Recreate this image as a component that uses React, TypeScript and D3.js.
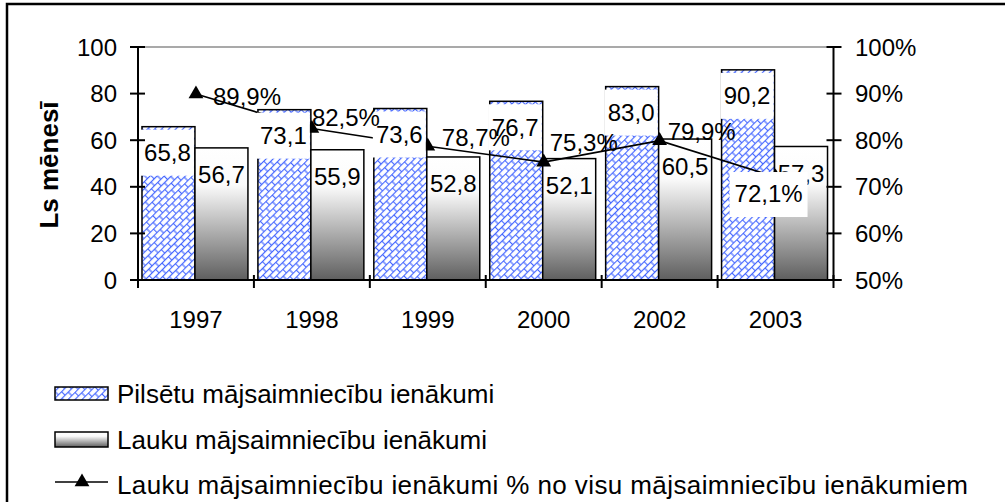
import React from "react";
import * as d3 from "d3";

const years = ["1997", "1998", "1999", "2000", "2002", "2003"];
const urbanIncome = [65.8, 73.1, 73.6, 76.7, 83.0, 90.2];
const ruralIncome = [56.7, 55.9, 52.8, 52.1, 60.5, 57.3];
const ruralShare = [89.9, 82.5, 78.7, 75.3, 79.9, 72.1];
const leftTicks = [0, 20, 40, 60, 80, 100];
const rightTicks = [50, 60, 70, 80, 90, 100];
const legendLabels = [
  "Pilsētu mājsaimniecību ienākumi",
  "Lauku mājsaimniecību ienākumi",
  "Lauku mājsaimniecību ienākumi % no visu mājsaimniecību ienākumiem",
];
const yTitle = "Ls mēnesī";

// layout-only: label offsets (text left, text middle) relative to each point
const shareLabelOffsets: [number, number][] = [
  [17, 2],
  [0, -11],
  [14, -9],
  [6, -20],
  [8, -9],
  [-41, 16],
];
const shareLabelBoxed = [false, false, false, false, false, true];

const W = 1005;
const H = 502;
const plot = { left: 138, right: 833.5, top: 47, bottom: 280 };
const FONT = "'Liberation Sans', Arial, sans-serif";

const fmt = (v: number) => v.toFixed(1).replace(".", ",");

export default function App() {
  const x0 = d3.scaleBand<string>().domain(years).range([plot.left, plot.right]);
  const bw = x0.bandwidth();
  const x1 = d3
    .scaleBand<string>()
    .domain(["u", "r"])
    .range([0, bw])
    .paddingInner(0)
    .paddingOuter(0.094)
    .align(0.4);
  const barW = x1.bandwidth();
  const y = d3.scaleLinear().domain([0, 100]).range([plot.bottom, plot.top]);
  const y2 = d3.scaleLinear().domain([50, 100]).range([plot.bottom, plot.top]);

  const pts = years.map((yr, i) => [x0(yr)! + bw / 2, y2(ruralShare[i])] as [number, number]);
  const line = d3.line()(pts) || "";
  const tri = d3.symbol().type(d3.symbolTriangle).size(95)() || "";

  const urbanBars = years.map((yr, i) => ({
    x: x0(yr)! + x1("u")!,
    top: y(urbanIncome[i]),
    v: urbanIncome[i],
  }));
  const ruralBars = years.map((yr, i) => ({
    x: x0(yr)! + x1("r")!,
    top: y(ruralIncome[i]),
    v: ruralIncome[i],
  }));

  const boundaries = years.map((yr) => x0(yr)!).concat([plot.right]);

  return (
    <svg
      width={W}
      height={H}
      style={{ position: "absolute", left: 0, top: 0, background: "#fff" }}
      fontFamily={FONT}
    >
      <defs>
        <pattern
          id="brick"
          width="9"
          height="10"
          patternUnits="userSpaceOnUse"
          patternTransform="rotate(-45)"
        >
          <rect width="9" height="10" fill="#fff" />
          <g stroke="#4466ff" strokeWidth="1.2" fill="none">
            <line x1="0" y1="0.5" x2="9" y2="0.5" />
            <line x1="0" y1="5.5" x2="9" y2="5.5" />
            <line x1="0.5" y1="0" x2="0.5" y2="5.5" />
            <line x1="5" y1="5.5" x2="5" y2="10" />
          </g>
        </pattern>
        <linearGradient id="grad" x1="0" y1="0" x2="0" y2="1">
          <stop offset="0" stopColor="#ffffff" />
          <stop offset="0.28" stopColor="#fbfbfb" />
          <stop offset="1" stopColor="#5f5f5f" />
        </linearGradient>
      </defs>

      {/* outer frame */}
      <rect x={7} y={4} width={1100} height={600} fill="#fff" stroke="#000" strokeWidth={2.5} />

      {/* top plot border line */}
      <line x1={plot.left} x2={plot.right} y1={plot.top} y2={plot.top} stroke="#8c8c8c" strokeWidth={1.5} />

      {/* bars */}
      {urbanBars.map((b, i) => (
        <rect
          key={"u" + i}
          x={b.x}
          y={b.top}
          width={barW}
          height={plot.bottom - b.top}
          fill="url(#brick)"
          stroke="#000"
          strokeWidth={1.5}
        />
      ))}
      {ruralBars.map((b, i) => (
        <rect
          key={"r" + i}
          x={b.x}
          y={b.top}
          width={barW}
          height={plot.bottom - b.top}
          fill="url(#grad)"
          stroke="#000"
          strokeWidth={1.5}
        />
      ))}

      {/* line series */}
      <path d={line} fill="none" stroke="#000" strokeWidth={1.6} />
      {pts.map((p, i) => (
        <path key={"m" + i} d={tri} transform={`translate(${p[0]},${p[1]})`} fill="#000" />
      ))}

      {/* bar labels */}
      {urbanBars.map((b, i) => (
        <g key={"ul" + i}>
          <rect x={b.x - 1} y={b.top + 3} width={barW} height={46} fill="#fff" />
          <text
            x={b.x + barW / 2 - 1}
            y={b.top + 26}
            textAnchor="middle"
            dominantBaseline="central"
            fontSize={24}
            fill="#000"
          >
            {fmt(b.v)}
          </text>
        </g>
      ))}
      {ruralBars.map((b, i) => (
        <text
          key={"rl" + i}
          x={b.x + barW / 2}
          y={b.top + 27}
          textAnchor="middle"
          dominantBaseline="central"
          fontSize={24}
          fill="#000"
        >
          {fmt(b.v)}
        </text>
      ))}

      {/* share labels */}
      {pts.map((p, i) => {
        const [dx, dy] = shareLabelOffsets[i];
        const tx = p[0] + dx;
        const ty = p[1] + dy;
        return (
          <g key={"sl" + i}>
            {shareLabelBoxed[i] && (
              <rect x={tx - 5} y={ty - 21} width={78} height={45} fill="#fff" />
            )}
            <text x={tx} y={ty} dominantBaseline="central" fontSize={24} fill="#000">
              {fmt(ruralShare[i]) + "%"}
            </text>
          </g>
        );
      })}

      {/* axes */}
      <g stroke="#000" strokeWidth={2}>
        <line x1={plot.left} x2={plot.left} y1={plot.top} y2={plot.bottom} />
        <line x1={plot.right} x2={plot.right} y1={plot.top} y2={plot.bottom} />
        <line x1={plot.left - 8} x2={plot.right + 8} y1={plot.bottom} y2={plot.bottom} />
        {leftTicks.map((t) => (
          <line key={"lt" + t} x1={plot.left - 8} x2={plot.left + 7} y1={y(t)} y2={y(t)} />
        ))}
        {rightTicks.map((t) => (
          <line key={"rt" + t} x1={plot.right - 7} x2={plot.right + 8} y1={y2(t)} y2={y2(t)} />
        ))}
        {boundaries.map((bx, i) => (
          <line key={"xt" + i} x1={bx} x2={bx} y1={plot.bottom - 5} y2={plot.bottom + 8} />
        ))}
      </g>
      {leftTicks.map((t) => (
        <text
          key={"ll" + t}
          x={117}
          y={y(t)}
          textAnchor="end"
          dominantBaseline="central"
          fontSize={24}
          fill="#000"
        >
          {t}
        </text>
      ))}
      {rightTicks.map((t) => (
        <text
          key={"rl" + t}
          x={855}
          y={y2(t)}
          dominantBaseline="central"
          fontSize={24}
          fill="#000"
        >
          {t + "%"}
        </text>
      ))}
      {years.map((yr) => (
        <text
          key={"xl" + yr}
          x={x0(yr)! + bw / 2}
          y={328}
          textAnchor="middle"
          fontSize={24}
          fill="#000"
        >
          {yr}
        </text>
      ))}
      <text
        transform={`translate(49,165) rotate(-90)`}
        textAnchor="middle"
        dominantBaseline="central"
        fontSize={26}
        fontWeight="bold"
        fill="#000"
      >
        {yTitle}
      </text>

      {/* legend */}
      <rect x={55} y={387} width={53} height={13} fill="url(#brick)" stroke="#000" strokeWidth={1.5} />
      <text x={117} y={393.5} dominantBaseline="central" fontSize={26} fill="#000">
        {legendLabels[0]}
      </text>
      <rect x={55} y={432} width={53} height={15} fill="url(#grad)" stroke="#000" strokeWidth={1.5} />
      <text x={117} y={439.5} dominantBaseline="central" fontSize={26} fill="#000">
        {legendLabels[1]}
      </text>
      <line x1={55} x2={108} y1={482} y2={482} stroke="#000" strokeWidth={1.6} />
      <path d={tri} transform="translate(82,482)" fill="#000" />
      <text
        x={117}
        y={484.5}
        dominantBaseline="central"
        fontSize={26}
        fill="#000"
        textLength={851}
        lengthAdjust="spacing"
      >
        {legendLabels[2]}
      </text>
    </svg>
  );
}
